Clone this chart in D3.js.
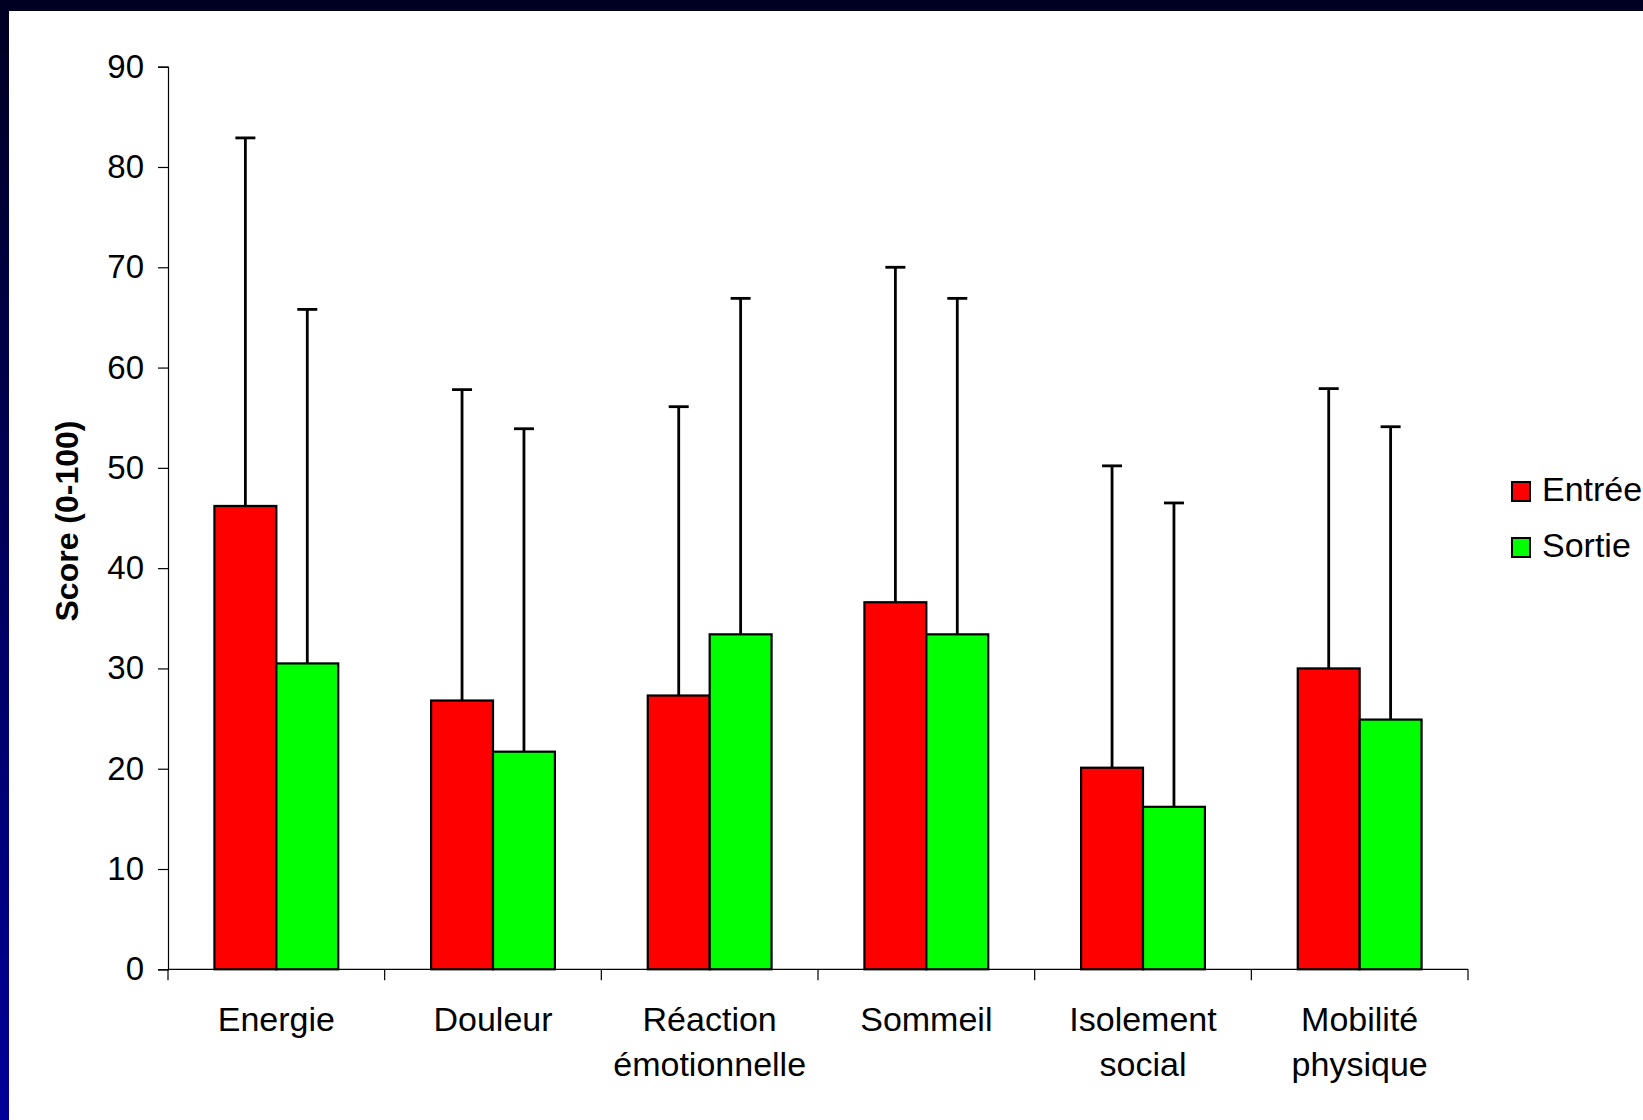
<!DOCTYPE html>
<html>
<head>
<meta charset="utf-8">
<script src="https://cdn.jsdelivr.net/npm/d3@7"></script>
<style>
  html, body { margin: 0; padding: 0; background: #fff; }
  svg { display: block; }
  text { font-family: "Liberation Sans", Arial, sans-serif; fill: #000; }
</style>
</head>
<body>
<svg id="chart" width="1643" height="1120"></svg>
<script>
// ---- data ----
const categories = ["Energie", "Douleur", "Réaction émotionnelle", "Sommeil", "Isolement social", "Mobilité physique"];
const categoryLines = [["Energie"], ["Douleur"], ["Réaction", "émotionnelle"], ["Sommeil"], ["Isolement", "social"], ["Mobilité", "physique"]];
const seriesNames = ["Entrée", "Sortie"];
const entree = [46.2, 26.8, 27.3, 36.6, 20.1, 30.0];
const sortie = [30.5, 21.7, 33.4, 33.4, 16.2, 24.9];
const entreeErr = [36.7, 31.0, 28.8, 33.4, 30.1, 27.9];
const sortieErr = [35.3, 32.2, 33.5, 33.5, 30.3, 29.2];
const yTicks = [0, 10, 20, 30, 40, 50, 60, 70, 80, 90];
const yLabel = "Score (0-100)";

// ---- layout ----
const svg = d3.select("#chart");
const W = 1643, H = 1120;
const colors = ["#ff0000", "#00ff00"];

const defs = svg.append("defs");
const grad = defs.append("linearGradient").attr("id", "bg").attr("x1", 0).attr("y1", 0).attr("x2", 0).attr("y2", 1);
grad.append("stop").attr("offset", "0%").attr("stop-color", "#000022");
grad.append("stop").attr("offset", "100%").attr("stop-color", "#000099");
svg.append("rect").attr("width", W).attr("height", H).attr("fill", "url(#bg)");
svg.append("rect").attr("x", 9).attr("y", 11).attr("width", W - 9).attr("height", H - 11).attr("fill", "#fff");

const x0 = 168, x1 = 1468, yTop = 66.7, yBot = 969.3;
const x = d3.scaleBand().domain(categories).range([x0, x1]).paddingInner(0).paddingOuter(0);
const bw = x.bandwidth() / 3.5;
const xs = d3.scaleBand().domain(seriesNames).range([0.75 * bw, 2.75 * bw]).padding(0);
const y = d3.scaleLinear().domain([0, 90]).range([yBot, yTop]);

// y axis
const yAxis = d3.axisLeft(y).tickValues(yTicks).tickSize(10).tickPadding(14).tickFormat(d3.format("d"));
const gy = svg.append("g").attr("transform", `translate(${x0},0)`).call(yAxis);
gy.select(".domain").attr("stroke", "#000").attr("stroke-width", 1.2);
gy.selectAll(".tick line").attr("stroke", "#000").attr("stroke-width", 1.2);
gy.selectAll(".tick text").attr("font-size", 33).attr("font-family", "'Liberation Sans', Arial, sans-serif").attr("fill", "#000");

// x axis
const gx = svg.append("g").attr("transform", `translate(0,${yBot})`);
gx.append("line").attr("x1", x0).attr("x2", x1).attr("y1", 0).attr("y2", 0).attr("stroke", "#000").attr("stroke-width", 1.2);
const bounds = categories.map(c => x(c)).concat([x1]);
gx.selectAll("line.tk").data(bounds).join("line").attr("class", "tk")
  .attr("x1", d => d).attr("x2", d => d).attr("y1", 0).attr("y2", 11).attr("stroke", "#000").attr("stroke-width", 1.2);

// x labels
const lbl = svg.append("g");
categories.forEach((c, i) => {
  const t = lbl.append("text").attr("text-anchor", "middle").attr("font-size", 34)
    .attr("x", x(c) + x.bandwidth() / 2).attr("y", 1031);
  categoryLines[i].forEach((ln, j) => {
    t.append("tspan").attr("x", x(c) + x.bandwidth() / 2).attr("dy", j === 0 ? 0 : 45).text(ln);
  });
});

// y label
svg.append("text").attr("transform", `translate(78,521) rotate(-90)`)
  .attr("text-anchor", "middle").attr("font-size", 32).attr("font-weight", "bold").text(yLabel);

// bars
const series = [entree, sortie];
const errs = [entreeErr, sortieErr];
series.forEach((vals, s) => {
  const g = svg.append("g");
  g.selectAll("line.err").data(vals).join("line")
    .attr("x1", (d, i) => x(categories[i]) + xs(seriesNames[s]) + bw / 2)
    .attr("x2", (d, i) => x(categories[i]) + xs(seriesNames[s]) + bw / 2)
    .attr("y1", d => y(d))
    .attr("y2", (d, i) => y(d + errs[s][i]))
    .attr("stroke", "#000").attr("stroke-width", 2.8);
  g.selectAll("line.cap").data(vals).join("line")
    .attr("x1", (d, i) => x(categories[i]) + xs(seriesNames[s]) + bw / 2 - 10)
    .attr("x2", (d, i) => x(categories[i]) + xs(seriesNames[s]) + bw / 2 + 10)
    .attr("y1", (d, i) => y(d + errs[s][i]))
    .attr("y2", (d, i) => y(d + errs[s][i]))
    .attr("stroke", "#000").attr("stroke-width", 2.8);
});
series.forEach((vals, s) => {
  svg.append("g").selectAll("rect").data(vals).join("rect")
    .attr("x", (d, i) => x(categories[i]) + xs(seriesNames[s]))
    .attr("y", d => y(d))
    .attr("width", xs.bandwidth())
    .attr("height", d => yBot - y(d))
    .attr("fill", colors[s]).attr("stroke", "#000").attr("stroke-width", 2.2);
});

// legend
const lg = svg.append("g");
seriesNames.forEach((n, i) => {
  const yy = 482 + i * 56;
  lg.append("rect").attr("x", 1512).attr("y", yy).attr("width", 18).attr("height", 19)
    .attr("fill", colors[i]).attr("stroke", "#000").attr("stroke-width", 2);
  lg.append("text").attr("x", 1542).attr("y", yy + 19).attr("font-size", 34).text(n);
});
</script>
</body>
</html>
